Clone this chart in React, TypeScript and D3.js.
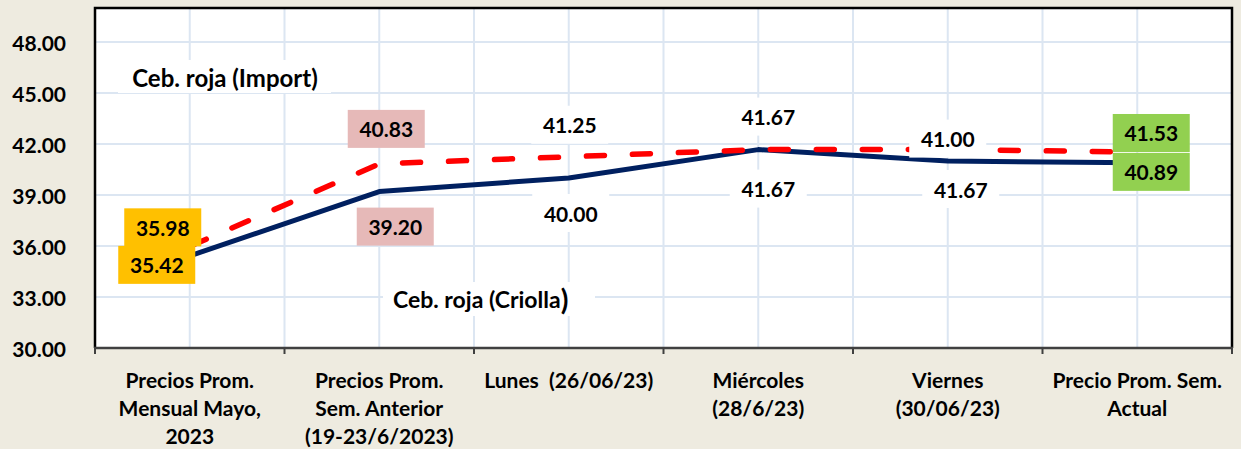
import React from "react";
import * as d3 from "d3";

const categories: string[][] = [
  ["Precios Prom.", "Mensual Mayo,", "2023"],
  ["Precios Prom.", "Sem. Anterior", "(19-23/6/2023)"],
  ["Lunes  (26/06/23)"],
  ["Miércoles", "(28/6/23)"],
  ["Viernes", "(30/06/23)"],
  ["Precio Prom. Sem.", "Actual"],
];
const importValues = [35.98, 40.83, 41.25, 41.67, 41.67, 41.53];
const criollaValues = [35.42, 39.2, 40.0, 41.67, 41.0, 40.89];
const importLabels = ["35.98", "40.83", "41.25", "41.67", "41.00", "41.53"];
const criollaLabels = ["35.42", "39.20", "40.00", "41.67", "41.67", "40.89"];
const yTicks = [30, 33, 36, 39, 42, 45, 48];
const seriesNames = ["Ceb. roja (Import)", "Ceb. roja (Criolla"];

// label layout (pixel offsets from the point) and box colours
const importLayout = [
  { dx: -27, dy: -19, fill: "#FFC000" },
  { dx: 7, dy: -35, fill: "#E6B9B8" },
  { dx: 1, dy: -32, fill: "#FFFFFF" },
  { dx: 10, dy: -33, fill: "#FFFFFF" },
  { dx: 0, dy: -11, fill: "#FFFFFF" },
  { dx: 14, dy: -19, fill: "#92D050" },
];
const criollaLayout = [
  { dx: -33, dy: 9, fill: "#FFC000" },
  { dx: 16, dy: 35, fill: "#E6B9B8" },
  { dx: 2, dy: 35, fill: "#FFFFFF" },
  { dx: 10, dy: 39, fill: "#FFFFFF" },
  { dx: 13, dy: 28, fill: "#FFFFFF" },
  { dx: 14, dy: 9, fill: "#92D050" },
];

const W = 1241;
const H = 449;
const L = 95;
const R = 1232;
const T = 8;
const B = 348;
const FONT = "Lato, 'Open Sans', sans-serif";

export default function App() {
  const idx = categories.map((_, i) => String(i));
  const x = d3.scaleBand<string>().domain(idx).range([L, R]).padding(0);
  const bw = x.bandwidth();
  const cx = (i: number) => (x(String(i)) as number) + bw / 2;
  const y = d3.scaleLinear().domain([30, 50]).range([B, T]);

  const line = d3
    .line<number>()
    .x((_, i) => cx(i))
    .y((d) => y(d));

  const vGrid: number[] = [];
  categories.forEach((_, i) => {
    vGrid.push(cx(i));
    if (i > 0) vGrid.push(x(String(i)) as number);
  });
  const boundaries = categories.map((_, i) => x(String(i)) as number).concat([R]);

  const boxW = 77;
  const boxH = 38;
  const renderLabel = (
    text: string,
    px: number,
    py: number,
    lay: { dx: number; dy: number; fill: string },
    key: string
  ) => {
    const lx = px + lay.dx;
    const ly = py + lay.dy;
    return (
      <g key={key}>
        <rect x={lx - boxW / 2} y={ly - boxH / 2} width={boxW} height={boxH} fill={lay.fill} />
        <text
          x={lx}
          y={ly}
          textAnchor="middle"
          dominantBaseline="central"
          fontFamily={FONT}
          fontWeight="bold"
          fontSize={21}
          fill="#000"
        >
          {text}
        </text>
      </g>
    );
  };

  return (
    <svg
      width={W}
      height={H}
      style={{ position: "absolute", left: 0, top: 0, display: "block" }}
    >
      <rect x={0} y={0} width={W} height={H} fill="#EEEBE0" />
      <rect x={L} y={T} width={R - L} height={B - T} fill="#FFFFFF" />
      {/* grid */}
      {yTicks.slice(1).map((t) => (
        <line key={"h" + t} x1={L} x2={R} y1={y(t)} y2={y(t)} stroke="#DCE6F2" strokeWidth={2} />
      ))}
      {vGrid.map((gx, i) => (
        <line key={"v" + i} x1={gx} x2={gx} y1={T} y2={B} stroke="#DCE6F2" strokeWidth={2} />
      ))}
      {/* border */}
      <path
        d={`M${L},${B} L${L},${T} L${R},${T} L${R},${B}`}
        fill="none"
        stroke="#000"
        strokeWidth={2.5}
      />
      {/* x axis */}
      <line x1={L - 1} x2={R + 1} y1={B} y2={B} stroke="#404040" strokeWidth={2.5} />
      {boundaries.map((bx, i) => (
        <line key={"t" + i} x1={bx} x2={bx} y1={B} y2={B + 6} stroke="#404040" strokeWidth={2} />
      ))}
      {/* y tick labels */}
      {yTicks.map((t) => (
        <text
          key={"yl" + t}
          x={66}
          y={y(t)}
          textAnchor="end"
          dominantBaseline="central"
          fontFamily={FONT}
          fontWeight="bold"
          fontSize={21}
          fill="#000"
        >
          {t.toFixed(2)}
        </text>
      ))}
      {/* x labels */}
      {categories.map((lines, i) => (
        <text
          key={"xl" + i}
          textAnchor="middle"
          fontFamily={FONT}
          fontWeight="bold"
          fontSize={21}
          fill="#000"
          style={{ whiteSpace: "pre" }}
        >
          {lines.map((ln, j) => (
            <tspan key={j} x={cx(i)} y={388 + j * 28}>
              {ln}
            </tspan>
          ))}
        </text>
      ))}
      {/* series name labels */}
      <rect x={118} y={60} width={213} height={33} fill="#FFFFFF" />
      <text
        x={225}
        y={77}
        textAnchor="middle"
        dominantBaseline="central"
        fontFamily={FONT}
        fontWeight="bold"
        fontSize={24}
        fill="#000"
      >
        {seriesNames[0]}
      </text>
      <rect x={383} y={282} width={212} height={34} fill="#FFFFFF" />
      <text
        x={393}
        y={299}
        dominantBaseline="central"
        fontFamily={FONT}
        fontWeight="bold"
        fontSize={23}
        fill="#000"
      >
        {seriesNames[1]}
        <tspan fontSize={28}>)</tspan>
      </text>
      {/* lines */}
      <path
        d={line(criollaValues) || ""}
        fill="none"
        stroke="#002060"
        strokeWidth={5}
        strokeLinejoin="round"
      />
      <path
        d={line(importValues) || ""}
        fill="none"
        stroke="#FF0000"
        strokeWidth={5.5}
        strokeDasharray="18 28"
        strokeLinecap="round"
      />
      {/* data labels */}
      {importValues.map((v, i) =>
        renderLabel(importLabels[i], cx(i), y(v), importLayout[i], "il" + i)
      )}
      {criollaValues.map((v, i) =>
        renderLabel(criollaLabels[i], cx(i), y(v), criollaLayout[i], "cl" + i)
      )}
    </svg>
  );
}
